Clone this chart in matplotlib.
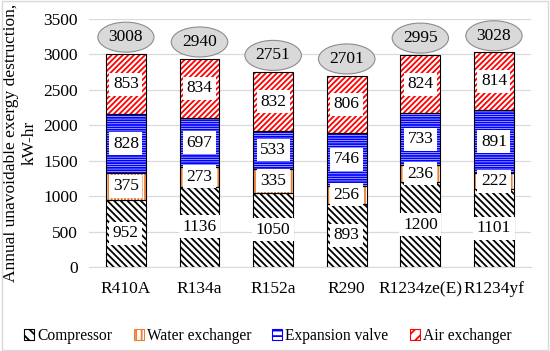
import matplotlib.pyplot as plt
from matplotlib.patches import Patch
import numpy as np

plt.rcParams['font.family'] = ['Liberation Serif', 'DejaVu Serif']
plt.rcParams['hatch.linewidth'] = 1.3

refrigerants = ['R410A', 'R134a', 'R152a', 'R290', 'R1234ze(E)', 'R1234yf']
compressor = [952, 1136, 1050, 893, 1200, 1101]
water_exchanger = [375, 273, 335, 256, 236, 222]
expansion_valve = [828, 697, 533, 746, 733, 891]
air_exchanger = [853, 834, 832, 806, 824, 814]
totals = [3008, 2940, 2751, 2701, 2995, 3028]

series = [
    ('Compressor', compressor, 'black', '\\' * 5),
    ('Water exchanger', water_exchanger, '#ed7d31', '|' * 5),
    ('Expansion valve', expansion_valve, 'blue', '-' * 7),
    ('Air exchanger', air_exchanger, 'red', '/' * 6),
]

fig = plt.figure(figsize=(5.5, 3.51), dpi=100)
ax = fig.add_axes([0.162, 0.239, 0.803, 0.707])

x = np.arange(len(refrigerants))
bottom = np.zeros(len(refrigerants))
handles = []
for name, vals, col, hatch in series:
    vals = np.array(vals)
    ax.bar(x, vals, 0.54, bottom=bottom, color='white', edgecolor=col,
           hatch=hatch, linewidth=0, zorder=2)
    ax.bar(x, vals, 0.54, bottom=bottom, fill=False, edgecolor='black',
           linewidth=0.8, zorder=3)
    handles.append(Patch(facecolor='white', edgecolor=col, hatch=hatch[:3],
                         linewidth=0.8, label=name))
    for xi, b, v in zip(x, bottom, vals):
        ax.text(xi, b + v / 2, str(v), ha='center', va='center', fontsize=12.5,
                zorder=4, bbox=dict(boxstyle='square,pad=0.2', fc='white', ec='none'))
    bottom += vals

for xi, t in zip(x, totals):
    ax.annotate(str(t), (xi, t), xytext=(0, 12), textcoords='offset points',
                ha='center', va='center', fontsize=12.5, zorder=5,
                bbox=dict(boxstyle='ellipse,pad=0.15', fc='#d9d9d9', ec='#8c8c8c', lw=0.8))

ax.set_ylim(0, 3500)
ax.set_xlim(-0.5, len(refrigerants) - 0.5)
ax.set_yticks(np.arange(0, 3501, 500))
ax.set_xticks(x)
ax.set_xticklabels(refrigerants, fontsize=12.5)
ax.tick_params(axis='y', labelsize=12.5, length=0, pad=8)
ax.tick_params(axis='x', length=0, pad=10)
ax.grid(axis='y', color='#d9d9d9', linewidth=0.9, zorder=0)
ax.set_axisbelow(True)
for s in ['top', 'right', 'left']:
    ax.spines[s].set_visible(False)
ax.spines['bottom'].set_color('#d9d9d9')
ax.set_ylabel('Annual unavoidable exergy destruction,\nkW-hr', fontsize=12.5, labelpad=4)

fig.legend(handles=handles, loc='lower center', ncol=4, frameon=False, fontsize=11.2,
           bbox_to_anchor=(0.487, -0.02), handlelength=0.65, handleheight=0.65,
           handletextpad=0.2, columnspacing=1.35)

fig.patches.append(plt.Rectangle((0.003, 0.003), 0.994, 0.994, transform=fig.transFigure,
                                 fill=False, ec='#d9d9d9', lw=1))

fig.savefig('out.png', dpi=100)
